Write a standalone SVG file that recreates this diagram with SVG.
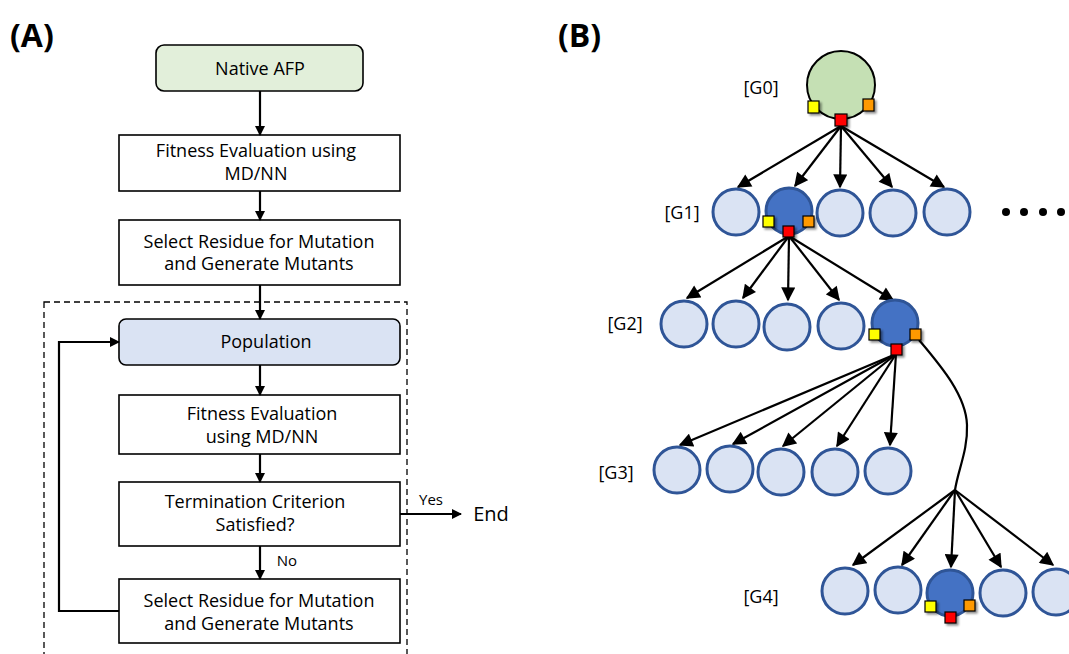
<svg xmlns="http://www.w3.org/2000/svg" width="1069" height="654" viewBox="0 0 1069 654">
<style>
.t{font-family:"Open Sans","Liberation Sans",sans-serif;font-size:18px;fill:#000;text-anchor:middle}
.g{font-family:"Open Sans","Liberation Sans",sans-serif;font-size:18px;fill:#000;text-anchor:middle}
.h{font-family:"Open Sans","Liberation Sans",sans-serif;font-size:32px;font-weight:bold;fill:#000}
.box{fill:#fff;stroke:#000;stroke-width:1.6}
.c{fill:#dae3f3;stroke:#2f5597;stroke-width:3}
.d{fill:#4472c4;stroke:#2f5597;stroke-width:3}
.ln{fill:none;stroke:#000;stroke-width:2.2}
.y{fill:#ffff00;stroke:#000;stroke-width:1.2}
.o{fill:#ff9900;stroke:#000;stroke-width:1.2}
.r{fill:#ff0000;stroke:#000;stroke-width:1.2}
</style>
<defs>
<marker id="a" viewBox="0 0 10 10" refX="9" refY="5" markerWidth="10" markerHeight="10" markerUnits="userSpaceOnUse" orient="auto"><path d="M0,0 L10,5 L0,10 z" fill="#000"/></marker>
<marker id="b" viewBox="0 0 10 10" refX="9" refY="5" markerWidth="15" markerHeight="14" markerUnits="userSpaceOnUse" orient="auto"><path d="M0,0 L10,5 L0,10 z" fill="#000"/></marker>
<filter id="sh" x="-50%" y="-50%" width="200%" height="200%"><feDropShadow dx="2" dy="2" stdDeviation="1.2" flood-color="#000" flood-opacity="0.45"/></filter>
</defs>
<rect width="1069" height="654" fill="#fff"/>

<text class="h" x="10" y="47">(A)</text>
<text class="h" x="558" y="47">(B)</text>

<!-- Panel A -->
<rect x="44" y="302" width="363" height="360" fill="none" stroke="#000" stroke-width="1.3" stroke-dasharray="6,4"/>

<g id="native">
<rect x="156" y="45" width="207" height="46" rx="8" fill="#e2efda" stroke="#000" stroke-width="1.6"/>
<text class="t" x="260" y="75">Native AFP</text>
</g>
<g id="fit1">
<rect class="box" x="119" y="135" width="281" height="56"/>
<text class="t" x="256" y="157">Fitness Evaluation using</text>
<text class="t" x="256" y="180">MD/NN</text>
</g>
<g id="sel1">
<rect class="box" x="119" y="220" width="281" height="65"/>
<text class="t" x="259" y="248">Select Residue for Mutation</text>
<text class="t" x="259" y="270">and Generate Mutants</text>
</g>
<g id="pop">
<rect x="119" y="319" width="281" height="46" rx="7" fill="#dae3f3" stroke="#000" stroke-width="1.6"/>
<text class="t" x="266" y="348">Population</text>
</g>
<g id="fit2">
<rect class="box" x="119" y="395" width="281" height="59"/>
<text class="t" x="262" y="420">Fitness Evaluation</text>
<text class="t" x="262" y="443">using MD/NN</text>
</g>
<g id="term">
<rect class="box" x="119" y="482" width="281" height="64"/>
<text class="t" x="255" y="508">Termination Criterion</text>
<text class="t" x="255" y="531">Satisfied?</text>
</g>
<g id="sel2">
<rect class="box" x="119" y="579" width="281" height="64"/>
<text class="t" x="259" y="607">Select Residue for Mutation</text>
<text class="t" x="259" y="630">and Generate Mutants</text>
</g>
<g id="end">
<text class="t" x="491" y="521" style="font-size:20px">End</text>
</g>

<g id="connectorsA">
<line class="ln" x1="260" y1="91" x2="260" y2="135" marker-end="url(#a)"/>
<line class="ln" x1="260" y1="191" x2="260" y2="220" marker-end="url(#a)"/>
<line class="ln" x1="260" y1="285" x2="260" y2="319" marker-end="url(#a)"/>
<line class="ln" x1="260" y1="365" x2="260" y2="395" marker-end="url(#a)"/>
<line class="ln" x1="260" y1="454" x2="260" y2="482" marker-end="url(#a)"/>
<line class="ln" x1="260" y1="546" x2="260" y2="579" marker-end="url(#a)"/>
<polyline class="ln" points="119,611 59,611 59,342 119,342" marker-end="url(#a)"/>
<line class="ln" x1="400" y1="514" x2="461" y2="514" marker-end="url(#a)"/>
<text class="g" x="431" y="505" style="font-size:15px">Yes</text>
<text class="g" x="287" y="566" style="font-size:15px">No</text>
</g>

<!-- Panel B -->
<g id="labels">
<text class="g" x="761" y="94">[G0]</text>
<text class="g" x="682" y="219">[G1]</text>
<text class="g" x="625" y="330">[G2]</text>
<text class="g" x="616" y="479">[G3]</text>
<text class="g" x="761" y="603">[G4]</text>
</g>

<g id="connectorsB">
<line class="ln" x1="841" y1="126" x2="738" y2="187" marker-end="url(#b)"/>
<line class="ln" x1="841" y1="126" x2="795" y2="186" marker-end="url(#b)"/>
<line class="ln" x1="841" y1="126" x2="840" y2="187" marker-end="url(#b)"/>
<line class="ln" x1="841" y1="126" x2="892" y2="187" marker-end="url(#b)"/>
<line class="ln" x1="841" y1="126" x2="944" y2="187" marker-end="url(#b)"/>

<line class="ln" x1="789" y1="236" x2="687" y2="298" marker-end="url(#b)"/>
<line class="ln" x1="789" y1="236" x2="743" y2="298" marker-end="url(#b)"/>
<line class="ln" x1="789" y1="236" x2="788" y2="300" marker-end="url(#b)"/>
<line class="ln" x1="789" y1="236" x2="839" y2="300" marker-end="url(#b)"/>
<line class="ln" x1="789" y1="236" x2="893" y2="300" marker-end="url(#b)"/>

<line class="ln" x1="896" y1="354" x2="680" y2="445" marker-end="url(#b)"/>
<line class="ln" x1="896" y1="354" x2="733" y2="444" marker-end="url(#b)"/>
<line class="ln" x1="896" y1="354" x2="783" y2="446" marker-end="url(#b)"/>
<line class="ln" x1="896" y1="354" x2="837" y2="446" marker-end="url(#b)"/>
<line class="ln" x1="896" y1="354" x2="890" y2="445" marker-end="url(#b)"/>

<path class="ln" d="M919,340 C940,365 966,395 967,425 C968,450 958,470 955,490"/>
<line class="ln" x1="955" y1="490" x2="853" y2="565" marker-end="url(#b)"/>
<line class="ln" x1="955" y1="490" x2="902" y2="565" marker-end="url(#b)"/>
<line class="ln" x1="955" y1="490" x2="951" y2="567" marker-end="url(#b)"/>
<line class="ln" x1="955" y1="490" x2="1001" y2="567" marker-end="url(#b)"/>
<line class="ln" x1="955" y1="490" x2="1053" y2="565" marker-end="url(#b)"/>
</g>

<g id="g0">
<circle cx="841" cy="85" r="34" fill="#c5e0b4" stroke="#000" stroke-width="2"/>
<rect class="y" x="808" y="101" width="11" height="12" filter="url(#sh)"/>
<rect class="o" x="863" y="99" width="11" height="12" filter="url(#sh)"/>
<rect class="r" x="835" y="114" width="12" height="12" filter="url(#sh)"/>
</g>

<g id="g1">
<circle class="c" cx="736" cy="212" r="23"/>
<circle class="d" cx="789" cy="211" r="23"/>
<circle class="c" cx="840" cy="213" r="23"/>
<circle class="c" cx="893" cy="213" r="23"/>
<circle class="c" cx="947" cy="212" r="23"/>
<rect class="y" x="763" y="216" width="11" height="11" filter="url(#sh)"/>
<rect class="o" x="803" y="216" width="11" height="11" filter="url(#sh)"/>
<rect class="r" x="783" y="226" width="11" height="11" filter="url(#sh)"/>
<circle cx="1006" cy="212" r="4" fill="#000"/>
<circle cx="1024" cy="212" r="4" fill="#000"/>
<circle cx="1043" cy="212" r="4" fill="#000"/>
<circle cx="1061" cy="212" r="4" fill="#000"/>
</g>

<g id="g2">
<circle class="c" cx="684" cy="324" r="23"/>
<circle class="c" cx="736" cy="324" r="23"/>
<circle class="c" cx="787" cy="327" r="23"/>
<circle class="c" cx="841" cy="326" r="23"/>
<circle class="d" cx="895" cy="323" r="23"/>
<rect class="y" x="869" y="329" width="11" height="11" filter="url(#sh)"/>
<rect class="o" x="910" y="329" width="11" height="11" filter="url(#sh)"/>
<rect class="r" x="891" y="344" width="11" height="11" filter="url(#sh)"/>
</g>

<g id="g3">
<circle class="c" cx="677" cy="470" r="23"/>
<circle class="c" cx="730" cy="469" r="23"/>
<circle class="c" cx="781" cy="472" r="23"/>
<circle class="c" cx="835" cy="472" r="23"/>
<circle class="c" cx="888" cy="471" r="23"/>
</g>

<g id="g4">
<circle class="c" cx="845" cy="591" r="23"/>
<circle class="c" cx="898" cy="590" r="23"/>
<circle class="d" cx="950" cy="593" r="23"/>
<circle class="c" cx="1003" cy="593" r="23"/>
<circle class="c" cx="1056" cy="592" r="23"/>
<rect class="y" x="925" y="601" width="11" height="11" filter="url(#sh)"/>
<rect class="o" x="964" y="600" width="11" height="11" filter="url(#sh)"/>
<rect class="r" x="945" y="612" width="11" height="11" filter="url(#sh)"/>
</g>
</svg>
